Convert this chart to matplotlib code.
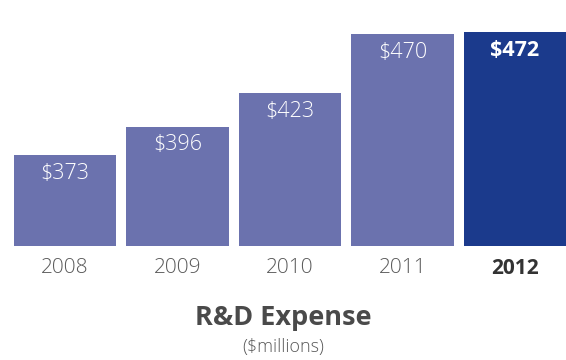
import matplotlib.pyplot as plt

years = ["2008", "2009", "2010", "2011", "2012"]
expense = [373, 396, 423, 470, 472]

light = "#6b72ae"
dark = "#1b3a8c"
grey = "#5a5a5a"

plt.rcParams["font.family"] = ["Open Sans", "DejaVu Sans"]

fig = plt.figure(figsize=(5.66, 3.6), dpi=100)
ax = fig.add_axes([14 / 566, 114 / 360, 552 / 566, 214 / 360])

colors = [light] * (len(years) - 1) + [dark]
bars = ax.bar(range(len(years)), expense, width=0.91, color=colors, bottom=0)
ax.set_xlim(-0.455, 4.455)
ax.set_ylim(300, 472)
ax.axis("off")

for i, (b, v) in enumerate(zip(bars, expense)):
    last = i == len(years) - 1
    ax.annotate(f"${v}", (b.get_x() + b.get_width() / 2, v), xytext=(0, -13),
                textcoords="offset points", ha="center", va="center",
                color="white", fontsize=15.5, fontweight="bold" if last else "light")
    ax.annotate(years[i], (i, 300), xytext=(0, -16), textcoords="offset points",
                ha="center", va="center", color="#333" if last else grey,
                fontsize=15, fontweight="bold" if last else "light")

fig.text(0.5, 1 - 318 / 360, "R&D Expense", ha="center", va="center",
         fontsize=19.5, fontweight="bold", color="#4a4a4a")
fig.text(0.5, 1 - 347 / 360, "($millions)", ha="center", va="center",
         fontsize=13, fontweight="light", color=grey)

fig.savefig("out.png", dpi=100)
